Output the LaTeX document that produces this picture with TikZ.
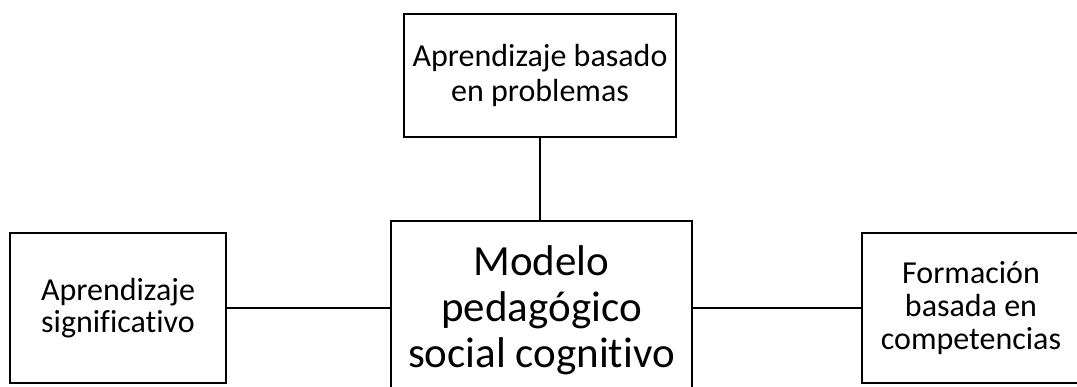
\documentclass[tikz,border=0pt]{standalone}
\usepackage{fontspec}
\setmainfont[Ligatures={NoCommon}]{Carlito}

\tikzset{caja/.style={draw,line width=1pt,align=center,inner sep=0pt},
	enlace/.style={line width=1pt}}

\begin{document}
\begin{tikzpicture}[line cap=round,x=0.5pt,y=-0.5pt]
		\clip (0,0) rectangle (1077,386);
		\node [caja,minimum width=136pt,minimum height=61.5pt,font=\fontsize{16}{17.5}\selectfont] (problemas) at (540,75.5) {Aprendizaje basado\\en problemas};
		\node [caja,minimum width=150.5pt,minimum height=89pt,font=\fontsize{21.5}{23}\selectfont] (modelo) at (541.5,310) {Modelo\\pedagógico\\social cognitivo};
		\node [caja,minimum width=108pt,minimum height=75pt,font=\fontsize{16}{16}\selectfont] (significativo) at (118,308) {Aprendizaje\\significativo};
		\node [caja,minimum width=109pt,minimum height=75pt,font=\fontsize{16}{16.3}\selectfont] (competencias) at (971,308) {Formación\\basada en\\competencias};
		\draw [enlace] (problemas.south) -- (problemas.south |- modelo.north);
		\draw [enlace] (significativo.east) -- (significativo.east -| modelo.west);
		\draw [enlace] (competencias.west) -- (competencias.west -| modelo.east);
	\end{tikzpicture}
\end{document}
